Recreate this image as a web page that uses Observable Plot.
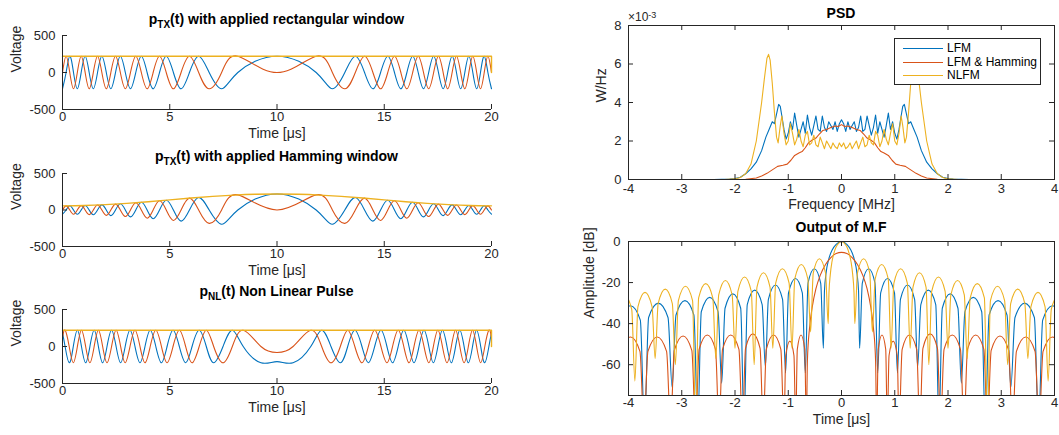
<!DOCTYPE html>
<html><head><meta charset="utf-8">
<script src="https://cdn.jsdelivr.net/npm/d3@7"></script>
<script src="https://cdn.jsdelivr.net/npm/@observablehq/plot@0.6"></script>
<style>
body{margin:0;background:#fff;}
#chart{position:relative;width:1059px;height:435px;font-family:"Liberation Sans",Arial,sans-serif;color:#262626;overflow:hidden;}
#chart svg{position:absolute;left:0;top:0;}
.ttl{position:absolute;width:500px;text-align:center;font-weight:bold;font-size:14px;line-height:18px;color:#000;white-space:nowrap;}
.ttl span{font-size:10px;position:relative;top:4px;}
.leg{position:absolute;left:894px;top:38px;width:147px;height:47px;background:#fff;border:1px solid #262626;box-sizing:border-box;font-size:12px;color:#000;}
.leg div.row{position:absolute;left:0;height:14px;line-height:14px;}
.leg div.sw{position:absolute;left:8px;top:7px;width:40px;height:0;border-top:1.3px solid;}
.leg div.tx{position:absolute;left:52px;top:0;white-space:nowrap;}
.mag{position:absolute;left:628px;top:10px;font-size:12px;line-height:14px;color:#262626;}
.mag sup{font-size:9px;position:relative;top:-2px;vertical-align:top;}
</style></head><body><div id="chart"></div>
<script>
// ---------------- axes of the three pulse panels ----------------
const timeDomain = [0, 20];
const timeTicks = [0, 5, 10, 15, 20];
const timeTickLabels = ["0", "5", "10", "15", "20"];
const voltDomain = [-500, 500];
const voltTicks = [-500, 0, 500];
const voltTickLabels = ["-500", "0", "500"];

// ---------------- LFM pulse: times of quarter-cycle points (extrema / zero crossings) ----------------
const lfmT = [0, 0.168, 0.339, 0.513, 0.691, 0.871, 1.056, 1.244, 1.437, 1.633, 1.835, 2.042, 2.254, 2.472, 2.697, 2.929, 3.169, 3.417, 3.675, 3.945, 4.226, 4.523, 4.836, 5.170, 5.528, 5.918, 6.349, 6.838, 7.418, 8.174, 10,
  11.826, 12.582, 13.162, 13.651, 14.082, 14.472, 14.830, 15.164, 15.477, 15.774, 16.055, 16.325, 16.583, 16.831, 17.071, 17.303, 17.528, 17.746, 17.958, 18.165, 18.367, 18.563, 18.756, 18.944, 19.129, 19.309, 19.487, 19.661, 19.832, 20];
// rectangular window
const rectBlue = [-220,0,220,0,-220,0,220,0,-220,0,220,0,-220,0,220,0,-220,0,220,0,-220,0,220,0,-220,0,220,0,-220,0,220,
  0,-220,0,220,0,-220,0,220,0,-220,0,220,0,-220,0,220,0,-220,0,220,0,-220,0,220,0,-220,0,220,0,-220];
const rectOrange = [0,220,0,-220,0,220,0,-220,0,220,0,-220,0,220,0,-220,0,220,0,-220,0,220,0,-220,0,220,0,-220,0,220,0,
  220,0,-220,0,220,0,-220,0,220,0,-220,0,220,0,-220,0,220,0,-220,0,220,0,-220,0,220,0,-220,0,220,0];
const rectEnvT = [0, 20, 20];
const rectEnv = [220, 220, 0];
// Hamming window
const hamBlue = [-57,0,58,0,-59,0,62,0,-65,0,70,0,-77,0,85,0,-94,0,106,0,-119,0,134,0,-152,0,172,0,-195,0,220,
  0,-195,0,172,0,-152,0,134,0,-119,0,106,0,-94,0,85,0,-77,0,70,0,-65,0,62,0,-59,0,58,0,-57];
const hamOrange = [0,57,0,-58,0,60,0,-63,0,68,0,-73,0,81,0,-89,0,100,0,-112,0,126,0,-143,0,162,0,-183,0,207,0,
  207,0,-183,0,162,0,-143,0,126,0,-112,0,100,0,-89,0,81,0,-73,0,68,0,-63,0,60,0,-58,0,57,0];
const hamEnvT = [0,1,2,3,4,5,6,7,8,9,10,11,12,13,14,15,16,17,18,19,20];
const hamEnv = [57,61,73,91,113,139,164,186,204,216,220,216,204,186,164,139,113,91,73,61,57];

// ---------------- NLFM pulse ----------------
const nlfmT = [0, 0.121, 0.312, 0.503, 0.694, 0.885, 1.079, 1.277, 1.476, 1.674, 1.872, 2.075, 2.287, 2.499, 2.710, 2.922, 3.147, 3.380, 3.613, 3.846, 4.089, 4.351, 4.613, 4.875, 5.153, 5.447, 5.741, 6.040, 6.372, 6.704, 7.048, 7.483, 7.917, 8.426, 9.25, 10,
  10.75, 11.574, 12.083, 12.517, 12.952, 13.296, 13.628, 13.960, 14.259, 14.553, 14.847, 15.125, 15.387, 15.649, 15.911, 16.154, 16.387, 16.620, 16.853, 17.078, 17.290, 17.501, 17.713, 17.925, 18.128, 18.326, 18.524, 18.723, 18.921, 19.115, 19.306, 19.497, 19.688, 19.879, 20];
const nlfmBlue = [185, 0,-220,0,220, 0,-220,0,220, 0,-220,0,220, 0,-220,0,220, 0,-220,0,220, 0,-220,0,220, 0,-220,0,220, 0,-220,0,220, 0,-220, -204,
  -220,0,220,0, -220,0,220,0, -220,0,220,0, -220,0,220,0, -220,0,220,0, -220,0,220,0, -220,0,220,0, -220,0,220,0, -220,0, 185];
const nlfmOrange = [119, 220,0,-220,0, 220,0,-220,0, 220,0,-220,0, 220,0,-220,0, 220,0,-220,0, 220,0,-220,0, 220,0,-220,0, 220,0,-220,0, 220,0, -81,
  0,220,0,-220, 0,220,0,-220, 0,220,0,-220, 0,220,0,-220, 0,220,0,-220, 0,220,0,-220, 0,220,0,-220, 0,220,0,-220, 0,220, 119];
const nlfmEnvT = [0, 20, 20];
const nlfmEnv = [220, 220, 0];

// ---------------- PSD (values in 10^-3 W/Hz, negative-frequency half; spectrum is symmetric) ----------------
const freqDomain = [-4, 4];
const freqTicks = [-4, -3, -2, -1, 0, 1, 2, 3, 4];
const freqTickLabels = ["-4", "-3", "-2", "-1", "0", "1", "2", "3", "4"];
const psdDomain = [0, 8];
const psdTicks = [0, 2, 4, 6, 8];
const psdTickLabels = ["0", "2", "4", "6", "8"];
const psdLfmF = [-4, -2.4, -2.1, -2.0, -1.9, -1.8, -1.7, -1.6, -1.5, -1.42, -1.36, -1.30, -1.26, -1.22, -1.18, -1.15, -1.12, -1.08, -1.04, -1.0, -0.96, -0.92, -0.88, -0.84, -0.80, -0.76, -0.72, -0.68, -0.64, -0.60, -0.56, -0.52, -0.48, -0.44, -0.40, -0.36, -0.32, -0.28, -0.24, -0.20, -0.16, -0.12, -0.08, -0.04, 0];
const psdLfm = [0, 0, 0.02, 0.05, 0.12, 0.3, 0.55, 0.9, 1.5, 2.2, 2.6, 3.0, 2.9, 3.4, 3.9, 3.8, 3.3, 2.6, 2.1, 2.4, 3.0, 2.6, 3.45, 2.8, 2.2, 2.6, 3.0, 2.4, 3.35, 2.7, 2.3, 2.8, 3.3, 2.6, 2.5, 3.3, 2.7, 2.5, 3.0, 2.8, 2.6, 3.0, 2.5, 2.9, 3.1];
const psdHamF = [-4, -2.0, -1.8, -1.6, -1.5, -1.4, -1.3, -1.2, -1.1, -1.02, -0.95, -0.88, -0.8, -0.74, -0.68, -0.62, -0.55, -0.48, -0.42, -0.35, -0.28, -0.2, -0.12, -0.06, 0];
const psdHam = [0, 0, 0.01, 0.08, 0.18, 0.32, 0.5, 0.68, 0.74, 0.8, 1.0, 1.25, 1.38, 1.45, 1.65, 1.9, 2.05, 2.15, 2.35, 2.55, 2.6, 2.7, 2.78, 2.75, 2.85];
const psdNlfmF = [-4, -2.2, -2.0, -1.9, -1.8, -1.7, -1.6, -1.5, -1.45, -1.40, -1.37, -1.34, -1.30, -1.26, -1.22, -1.19, -1.15, -1.12, -1.08, -1.04, -1.0, -0.96, -0.92, -0.88, -0.84, -0.80, -0.76, -0.72, -0.68, -0.64, -0.60, -0.56, -0.52, -0.48, -0.44, -0.40, -0.36, -0.32, -0.28, -0.24, -0.20, -0.16, -0.12, -0.08, -0.04, 0];
const psdNlfm = [0, 0, 0.03, 0.1, 0.3, 0.8, 2.0, 4.0, 5.2, 6.3, 6.5, 6.2, 5.0, 3.5, 2.2, 1.9, 2.8, 3.3, 2.4, 1.8, 2.0, 2.9, 2.4, 1.8, 2.1, 2.6, 2.0, 1.7, 2.3, 2.5, 1.8, 1.9, 2.3, 1.8, 1.7, 2.2, 1.9, 1.6, 2.0, 1.8, 1.6, 1.9, 1.7, 1.6, 1.9, 1.7];

// ---------------- Matched filter output (dB, positive-lag half; response is symmetric) ----------------
const lagDomain = [-4, 4];
const dbDomain = [-75, 0];
const dbTicks = [-60, -40, -20, 0];
const dbTickLabels = ["-60", "-40", "-20", "0"];
const mfLfmT = [0, .1, .17, .24, .29, .32, .34, .391, .51, .629, .68, .736, .865, .995, 1.05, 1.107, 1.24, 1.373, 1.43, 1.49, 1.63, 1.77, 1.83, 1.893, 2.04, 2.187, 2.25, 2.318, 2.475, 2.633, 2.7, 2.772, 2.94, 3.108, 3.18, 3.258, 3.44, 3.622, 3.7, 3.778, 3.96, 4.142, 4.22];
const mfLfm = [0, -1.4, -3.9, -8.7, -15.4, -24, -52, -20.3, -13.3, -20.3, -64, -25, -18, -25, -64, -28.2, -21.2, -28.2, -61, -30.7, -23.7, -30.7, -90, -32.5, -25.5, -32.5, -69, -34.2, -27.2, -34.2, -90, -35.8, -28.8, -35.8, -71, -37, -30, -37, -90, -38.3, -31.3, -38.3, -90];
const mfHamT = [0, .1, .2, .3, .4, .48, .55, .6, .64, .66, .69, .76, .83, .86, .893, .97, 1.047, 1.08, 1.139, 1.275, 1.412, 1.47, 1.529, 1.665, 1.802, 1.86, 1.926, 2.08, 2.234, 2.3, 2.366, 2.52, 2.674, 2.74, 2.811, 2.975, 3.14, 3.21, 3.285, 3.46, 3.635, 3.71, 3.785, 3.96, 4.135, 4.21];
const mfHam = [-5.3, -5.9, -7.8, -11.2, -16.5, -23, -32, -42, -58, -90, -52.5, -45.5, -52.5, -90, -55.5, -48.5, -55.5, -90, -52.5, -45.5, -52.5, -90, -52, -45, -52, -90, -52.5, -45.5, -52.5, -90, -52.5, -45.5, -52.5, -90, -53, -46, -53, -90, -53.5, -46.5, -53.5, -90, -53.5, -46.5, -53.5, -90];
const mfNlfmT = [0, .06, .1, .14, .18, .21, .235, .25, .2995, .415, .5305, .58, .6325, .755, .8775, .93, .984, 1.11, 1.236, 1.29, 1.3425, 1.465, 1.5875, 1.64, 1.694, 1.82, 1.946, 2.0, 2.054, 2.18, 2.306, 2.36, 2.417, 2.55, 2.683, 2.74, 2.797, 2.93, 3.063, 3.12, 3.177, 3.31, 3.443, 3.5, 3.557, 3.69, 3.823, 3.88, 3.94, 4.08, 4.22, 4.28];
const mfNlfm = [0, -1, -2.6, -5.5, -10, -16, -25, -40, -15.4, -8.4, -15.4, -44, -18.2, -11.2, -18.2, -52, -20.3, -13.3, -20.3, -52, -22.2, -15.2, -22.2, -60, -24.3, -17.3, -24.3, -52, -26, -19, -26, -57, -27.5, -20.5, -27.5, -90, -28.8, -21.8, -28.8, -60, -30.2, -23.2, -30.2, -57, -31.8, -24.8, -31.8, -68, -33, -26, -33, -90];

const seriesNames = ["LFM", "LFM & Hamming", "NLFM"];
const seriesColors = ["#0072BD", "#D95319", "#EDB120"];

// ---------------- helpers ----------------
const W = 1059, H = 435, AX = "#262626", FONT = '"Liberation Sans", Arial, sans-serif', SW = 1.1;
const rows = (xs, ys) => xs.map((x, i) => ({x, y: ys[i]}));
// negative half (ending at 0) -> full symmetric curve
const mirrorNeg = (xs, ys) => rows(xs.concat(xs.slice(0, -1).reverse().map(v => -v)), ys.concat(ys.slice(0, -1).reverse()));
// positive half (starting at 0) -> full symmetric curve
const mirrorPos = (xs, ys) => rows(xs.slice(1).reverse().map(v => -v).concat(xs), ys.slice(1).reverse().concat(ys));

const chart = document.getElementById("chart");
const baseStyle = {background: "transparent", fontFamily: FONT, overflow: "visible", position: "absolute", left: "0px", top: "0px"};

function xLabels(ticks, labels, dy) {
  return Plot.text(ticks, {x: d => d, text: (d, i) => labels[i], frameAnchor: "bottom", dy, fontSize: 13, fill: AX});
}
function yLabels(ticks, labels, dx) {
  return Plot.text(ticks, {y: d => d, text: (d, i) => labels[i], frameAnchor: "left", dx, textAnchor: "end", fontSize: 13, fill: AX});
}
function axisTitleX(s, dy) { return Plot.text([s], {text: d => d, frameAnchor: "bottom", dy, fontSize: 14, fill: AX}); }
function axisTitleY(s, dx) { return Plot.text([s], {text: d => d, frameAnchor: "left", dx, rotate: -90, fontSize: 14, fill: AX}); }

function pulsePanel(top, bottom, t, blue, orange, envT, env, envCurve) {
  const L = 62, R = 491, fw = R - L, fh = bottom - top;
  return Plot.plot({
    width: W, height: H, marginLeft: L, marginRight: W - R, marginTop: top, marginBottom: H - bottom,
    style: baseStyle,
    x: {domain: timeDomain, axis: null}, y: {domain: voltDomain, axis: null},
    marks: [
      Plot.line(rows(t, blue), {x: "x", y: "y", stroke: seriesColors[0], strokeWidth: SW, curve: "natural"}),
      Plot.line(rows(t, orange), {x: "x", y: "y", stroke: seriesColors[1], strokeWidth: SW, curve: "natural"}),
      Plot.line(rows(envT, env), {x: "x", y: "y", stroke: seriesColors[2], strokeWidth: SW + 0.3, curve: envCurve}),
      Plot.ruleX([timeDomain[0]], {stroke: AX}),
      Plot.ruleY([voltDomain[0]], {stroke: AX}),
      Plot.tickX(timeTicks, {x: d => d, stroke: AX, insetTop: fh - 5}),
      Plot.tickY(voltTicks, {y: d => d, stroke: AX, insetRight: fw - 5}),
      xLabels(timeTicks, timeTickLabels, 11.5),
      yLabels(voltTicks, voltTickLabels, -7),
      axisTitleX("Time [\u03bcs]", 28),
      axisTitleY("Voltage", -46)
    ]
  });
}

chart.appendChild(pulsePanel(35, 109, lfmT, rectBlue, rectOrange, rectEnvT, rectEnv, "linear"));
chart.appendChild(pulsePanel(173, 246, lfmT, hamBlue, hamOrange, hamEnvT, hamEnv, "natural"));
chart.appendChild(pulsePanel(309, 383, nlfmT, nlfmBlue, nlfmOrange, nlfmEnvT, nlfmEnv, "linear"));

function boxTicks(fw, fh, xt, yt) {
  return [
    Plot.tickX(xt, {x: d => d, stroke: AX, insetTop: fh - 5}),
    Plot.tickX(xt, {x: d => d, stroke: AX, insetBottom: fh - 5}),
    Plot.tickY(yt, {y: d => d, stroke: AX, insetRight: fw - 5}),
    Plot.tickY(yt, {y: d => d, stroke: AX, insetLeft: fw - 5}),
    Plot.frame({stroke: AX})
  ];
}

// PSD panel
{
  const L = 628, R = 1054, top = 25, bottom = 179;
  chart.appendChild(Plot.plot({
    width: W, height: H, marginLeft: L, marginRight: W - R, marginTop: top, marginBottom: H - bottom,
    style: baseStyle,
    x: {domain: freqDomain, axis: null}, y: {domain: psdDomain, axis: null},
    marks: [
      Plot.line(mirrorNeg(psdLfmF, psdLfm), {x: "x", y: "y", stroke: seriesColors[0], strokeWidth: SW, clip: true}),
      Plot.line(mirrorNeg(psdHamF, psdHam), {x: "x", y: "y", stroke: seriesColors[1], strokeWidth: SW, clip: true}),
      Plot.line(mirrorNeg(psdNlfmF, psdNlfm), {x: "x", y: "y", stroke: seriesColors[2], strokeWidth: SW, clip: true}),
      ...boxTicks(R - L, bottom - top, freqTicks, psdTicks),
      xLabels(freqTicks, freqTickLabels, 13),
      yLabels(psdTicks, psdTickLabels, -7),
      axisTitleX("Frequency [MHz]", 29),
      axisTitleY("W/Hz", -27)
    ]
  }));
}

// Matched filter panel
{
  const L = 628, R = 1054, top = 241, bottom = 395;
  chart.appendChild(Plot.plot({
    width: W, height: H, marginLeft: L, marginRight: W - R, marginTop: top, marginBottom: H - bottom,
    style: baseStyle,
    x: {domain: lagDomain, axis: null}, y: {domain: dbDomain, axis: null},
    marks: [
      Plot.line(mirrorPos(mfLfmT, mfLfm), {x: "x", y: "y", stroke: seriesColors[0], strokeWidth: SW, curve: "monotone-x", clip: true}),
      Plot.line(mirrorPos(mfHamT, mfHam), {x: "x", y: "y", stroke: seriesColors[1], strokeWidth: SW, curve: "monotone-x", clip: true}),
      Plot.line(mirrorPos(mfNlfmT, mfNlfm), {x: "x", y: "y", stroke: seriesColors[2], strokeWidth: SW, curve: "monotone-x", clip: true}),
      ...boxTicks(R - L, bottom - top, freqTicks, dbTicks),
      xLabels(freqTicks, freqTickLabels, 11.5),
      yLabels(dbTicks, dbTickLabels, -8),
      axisTitleX("Time [\u03bcs]", 28),
      axisTitleY("Amplitude [dB]", -39)
    ]
  }));
}

// titles, exponent, legend (HTML text)
function addTitle(html, cx, cy) {
  const d = document.createElement("div");
  d.className = "ttl";
  d.style.left = (cx - 250) + "px";
  d.style.top = (cy - 9) + "px";
  d.innerHTML = html;
  chart.appendChild(d);
}
addTitle("p<span>TX</span>(t) with applied rectangular window", 276.5, 19);
addTitle("p<span>TX</span>(t) with applied Hamming window", 276.5, 156);
addTitle("p<span>NL</span>(t) Non Linear Pulse", 276.5, 291);
addTitle("PSD", 841, 13);
addTitle("Output of M.F", 841, 227);

const mag = document.createElement("div");
mag.className = "mag";
mag.innerHTML = "\u00d710<sup>-3</sup>";
chart.appendChild(mag);

const leg = document.createElement("div");
leg.className = "leg";
seriesNames.forEach((name, i) => {
  const r = document.createElement("div");
  r.className = "row";
  r.style.top = (2 + i * 13.7) + "px";
  r.innerHTML = `<div class="sw" style="border-top-color:${seriesColors[i]}"></div><div class="tx">${name.replace("&", "&amp;")}</div>`;
  leg.appendChild(r);
});
chart.appendChild(leg);
</script></body></html>
